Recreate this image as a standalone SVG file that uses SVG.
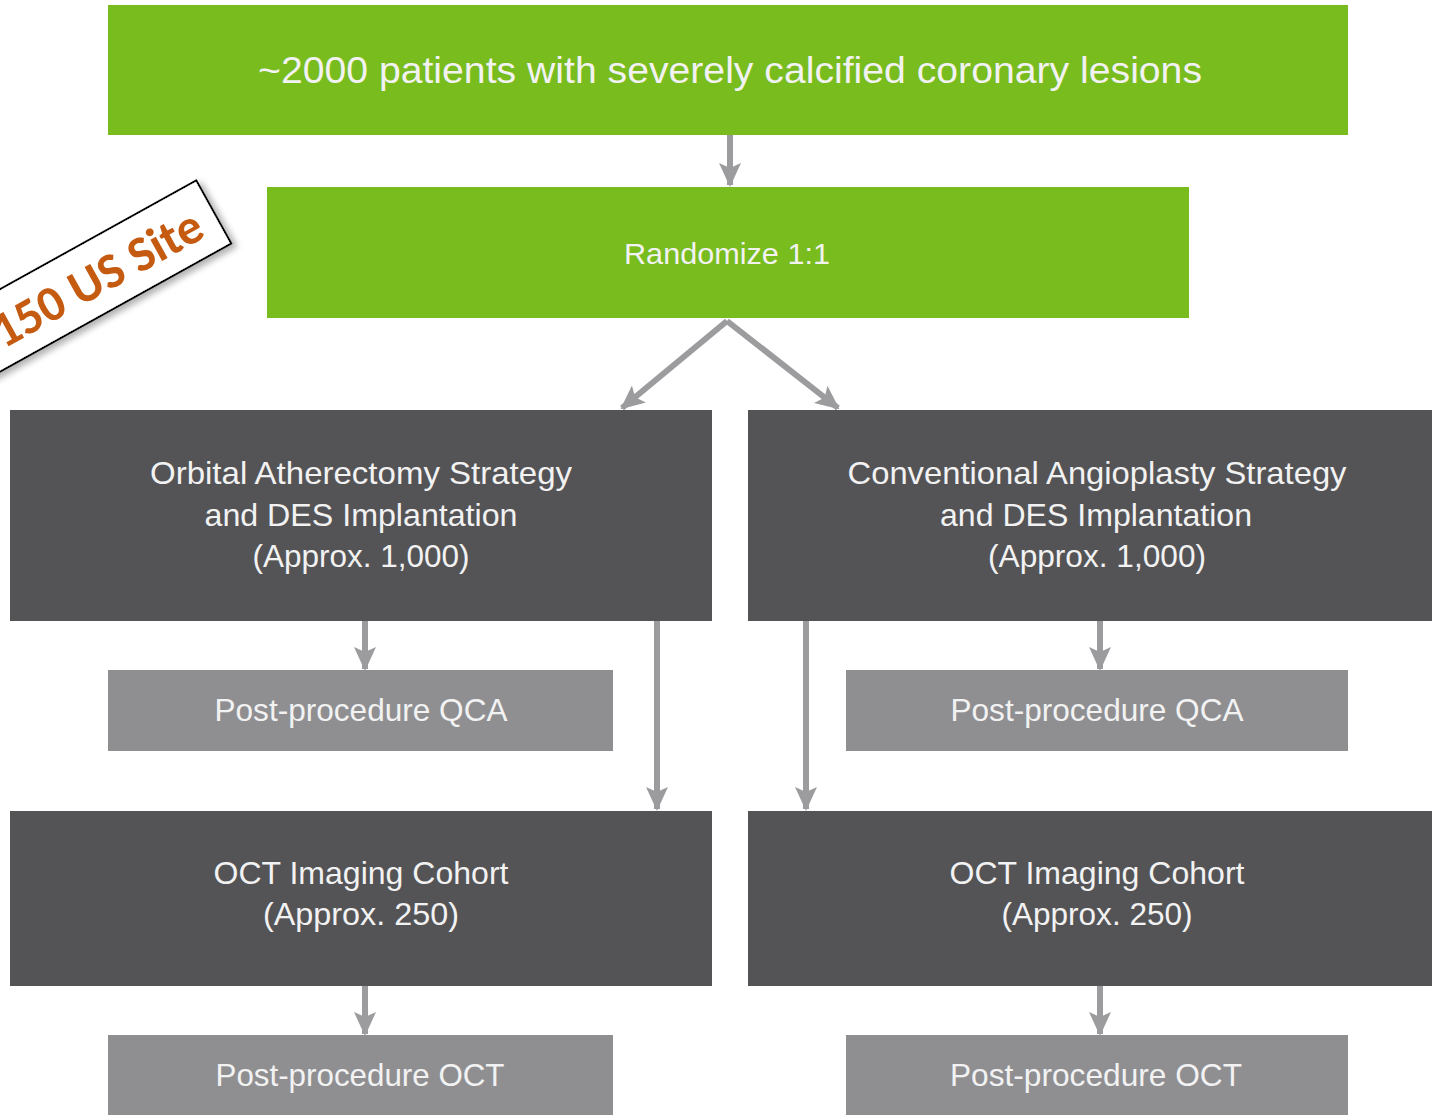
<svg xmlns="http://www.w3.org/2000/svg" width="1432" height="1115" viewBox="0 0 1432 1115">
<style>
.green{fill:#78BC1E}
.dark{fill:#545457}
.light{fill:#8F8F92}
.t{font-family:"Liberation Sans",Arial,sans-serif;fill:#F2F2F2;text-anchor:middle}
.c{stroke:#9C9C9F;stroke-width:6;fill:none}
</style>
<defs>
<marker id="ah" markerUnits="userSpaceOnUse" markerWidth="24" markerHeight="22" viewBox="0 0 24 22" refX="22" refY="11" orient="auto">
<path d="M0,0 L24,11 L0,22 L5,11 Z" fill="#9C9C9F"/>
</marker>
<filter id="sh" x="-20%" y="-50%" width="140%" height="200%">
<feDropShadow dx="3" dy="5" stdDeviation="3" flood-color="#000" flood-opacity="0.3"/>
</filter>
</defs>
<rect width="1432" height="1115" fill="#FFFFFF"/>

<g id="connectors">
<line class="c" x1="730" y1="135" x2="730" y2="185" marker-end="url(#ah)"/>
<line class="c" x1="727" y1="321" x2="622" y2="408" marker-end="url(#ah)"/>
<line class="c" x1="727" y1="321" x2="838" y2="408" marker-end="url(#ah)"/>
<line class="c" x1="365" y1="621" x2="365" y2="669" marker-end="url(#ah)"/>
<line class="c" x1="657" y1="621" x2="657" y2="809" marker-end="url(#ah)"/>
<line class="c" x1="806" y1="621" x2="806" y2="809" marker-end="url(#ah)"/>
<line class="c" x1="1100" y1="621" x2="1100" y2="669" marker-end="url(#ah)"/>
<line class="c" x1="365" y1="986" x2="365" y2="1034" marker-end="url(#ah)"/>
<line class="c" x1="1100" y1="986" x2="1100" y2="1034" marker-end="url(#ah)"/>
</g>

<g id="node-patients">
<rect class="green" x="108" y="5" width="1240" height="130"/>
<text class="t" x="730" y="83" font-size="36" textLength="944" lengthAdjust="spacingAndGlyphs">~2000 patients with  severely calcified coronary lesions</text>
</g>

<g id="node-randomize">
<rect class="green" x="267" y="187" width="922" height="131"/>
<text class="t" x="727" y="264" font-size="30" textLength="206" lengthAdjust="spacingAndGlyphs">Randomize 1:1</text>
</g>

<g id="node-orbital">
<rect class="dark" x="10" y="410" width="702" height="211"/>
<text class="t" x="361" y="484" font-size="32" textLength="422" lengthAdjust="spacingAndGlyphs">Orbital Atherectomy Strategy</text>
<text class="t" x="361" y="526" font-size="32" textLength="313" lengthAdjust="spacingAndGlyphs">and DES Implantation</text>
<text class="t" x="361" y="567" font-size="32" textLength="217" lengthAdjust="spacingAndGlyphs">(Approx. 1,000)</text>
</g>

<g id="node-conventional">
<rect class="dark" x="748" y="410" width="684" height="211"/>
<text class="t" x="1097" y="484" font-size="32" textLength="499" lengthAdjust="spacingAndGlyphs">Conventional Angioplasty Strategy</text>
<text class="t" x="1096" y="526" font-size="32" textLength="312" lengthAdjust="spacingAndGlyphs">and DES Implantation</text>
<text class="t" x="1097" y="567" font-size="32" textLength="218" lengthAdjust="spacingAndGlyphs">(Approx. 1,000)</text>
</g>

<g id="node-qca-left">
<rect class="light" x="108" y="670" width="505" height="81"/>
<text class="t" x="361" y="721" font-size="32" textLength="293" lengthAdjust="spacingAndGlyphs">Post-procedure QCA</text>
</g>

<g id="node-qca-right">
<rect class="light" x="846" y="670" width="502" height="81"/>
<text class="t" x="1097" y="721" font-size="32" textLength="293" lengthAdjust="spacingAndGlyphs">Post-procedure QCA</text>
</g>

<g id="node-oct-left">
<rect class="dark" x="10" y="811" width="702" height="175"/>
<text class="t" x="361" y="884" font-size="32" textLength="295" lengthAdjust="spacingAndGlyphs">OCT Imaging Cohort</text>
<text class="t" x="361" y="925" font-size="32" textLength="196" lengthAdjust="spacingAndGlyphs">(Approx. 250)</text>
</g>

<g id="node-oct-right">
<rect class="dark" x="748" y="811" width="684" height="175"/>
<text class="t" x="1097" y="884" font-size="32" textLength="295" lengthAdjust="spacingAndGlyphs">OCT Imaging Cohort</text>
<text class="t" x="1097" y="925" font-size="32" textLength="191" lengthAdjust="spacingAndGlyphs">(Approx. 250)</text>
</g>

<g id="node-postoct-left">
<rect class="light" x="108" y="1035" width="505" height="80"/>
<text class="t" x="360" y="1086" font-size="32" textLength="289" lengthAdjust="spacingAndGlyphs">Post-procedure OCT</text>
</g>

<g id="node-postoct-right">
<rect class="light" x="846" y="1035" width="502" height="80"/>
<text class="t" x="1096" y="1086" font-size="32" textLength="292" lengthAdjust="spacingAndGlyphs">Post-procedure OCT</text>
</g>

<g id="label-sites" transform="translate(100,275) rotate(-29)">
<rect x="-260" y="-36" width="390" height="72" fill="#FFFFFF" stroke="#000000" stroke-width="2" filter="url(#sh)"/>
<text x="-4" y="18" font-family="Carlito,'Liberation Sans',Arial,sans-serif" font-weight="bold" font-size="50" fill="#C55A11" text-anchor="middle">150 US Site</text>
</g>
</svg>
